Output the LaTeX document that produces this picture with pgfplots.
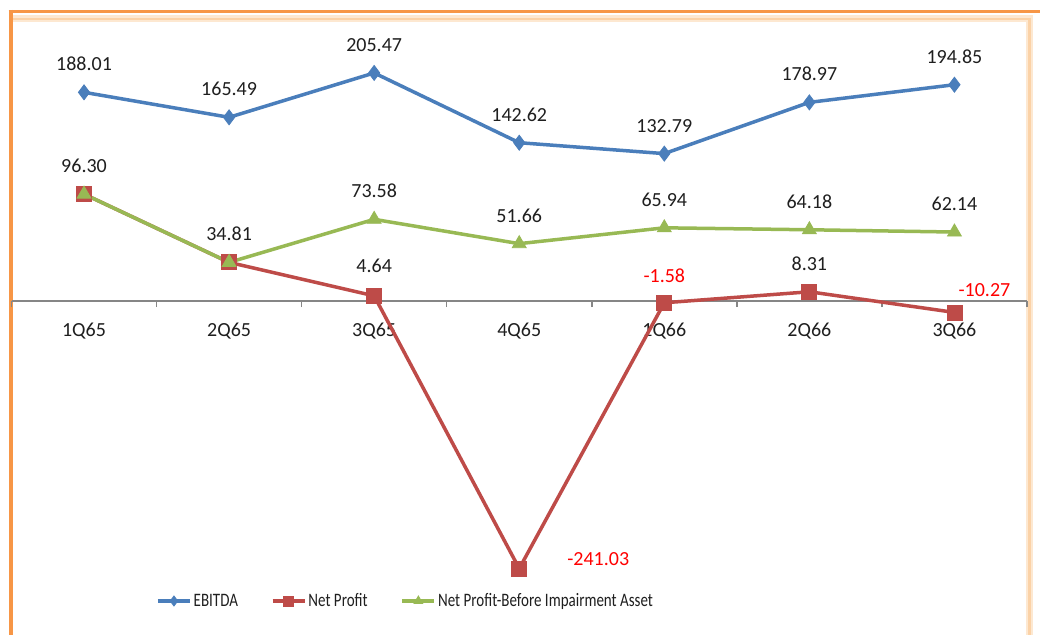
\documentclass[border=0pt]{standalone}
\usepackage{fontspec}
\setmainfont{Carlito}
\newfontfamily\legfont[FakeStretch=0.79]{Carlito}
\usepackage{pgfplots}
\pgfplotsset{compat=1.18}
\definecolor{ebit}{HTML}{4A7EBB}
\definecolor{np}{HTML}{BE4B48}
\definecolor{npb}{HTML}{98B954}
\definecolor{frameor}{HTML}{F79646}
\definecolor{glow}{HTML}{FCD3A4}
\definecolor{axgray}{HTML}{868686}
\definecolor{lbl}{HTML}{1F1F1F}
\newcommand{\lf}{\fontsize{20}{23}\selectfont}
\begin{document}
\begin{tikzpicture}[x=1pt,y=1pt]
\useasboundingbox (0,0) rectangle (1040,-634);
\fill[white] (0,0) rectangle (1040,-634);
\draw[glow, line width=7pt, opacity=0.5] (12,-19) -- (1029.5,-19) -- (1029.5,-640);
\draw[glow!85!frameor, line width=2.5pt, opacity=0.7] (12,-19) -- (1029.5,-19) -- (1029.5,-640);
\draw[frameor, line width=3pt] (8.5,-11.5) -- (1045,-11.5);
\draw[frameor, line width=4pt] (10.5,-10) -- (10.5,-640);
\begin{axis}[
  at={(11.5pt,-578.5pt)}, anchor=south west,
  scale only axis, width=1015.5pt, height=555pt,
  xmin=-0.5, xmax=6.5, ymin=-250, ymax=250,
  clip=false,
  axis x line*=middle, axis y line=none,
  axis line style={axgray, line width=1.5pt},
  xtick={0,...,6},
  xticklabels={1Q65,2Q65,3Q65,4Q65,1Q66,2Q66,3Q66},
  minor xtick={-0.5,0.5,1.5,2.5,3.5,4.5,5.5,6.5},
  major tick length=0pt, minor tick length=6pt,
  xtick align=outside,
  tick style={axgray, line width=1.5pt},
  ytick=\empty,
  xticklabel style={font=\lf, text=lbl, yshift=-18pt},
  legend columns=3,
  legend style={at={(0.1423,-0.0405)}, anchor=west, draw=none, fill=none,
    font=\legfont\fontsize{19}{22}\selectfont, text=lbl, inner sep=0pt,
    /tikz/every even column/.append style={column sep=31pt}},
  legend image code/.code={\draw[mark repeat=2,mark phase=2,#1,mark size=5pt] plot coordinates {(0pt,0pt) (16pt,0pt) (32pt,0pt)};},
  every node near coord/.append style={anchor=south, inner sep=0pt, yshift=21pt, text=lbl, font=\lf},
]
\addplot[ebit, line width=3.5pt, mark=diamond*, mark size=7.5pt, mark options={solid, line width=0.8pt},
  nodes near coords, point meta=explicit symbolic]
  coordinates {(0,188.01)[188.01] (1,165.49)[165.49] (2,205.47)[205.47] (3,142.62)[142.62] (4,132.79)[132.79] (5,178.97)[178.97] (6,194.85)[194.85]};
\addlegendentry{EBITDA}
\addplot[np, line width=3.5pt, mark=square*, mark size=7.5pt, mark options={solid, line width=0.8pt}]
  coordinates {(0,96.30) (1,34.81) (2,4.64) (3,-241.03) (4,-1.58) (5,8.31) (6,-10.27)};
\addlegendentry{Net Profit}
\addplot[npb, line width=3.5pt, mark=triangle*, mark size=8pt, mark options={solid, line width=0.8pt},
  nodes near coords, point meta=explicit symbolic]
  coordinates {(0,96.30)[96.30] (1,34.81)[34.81] (2,73.58)[73.58] (3,51.66)[51.66] (4,65.94)[65.94] (5,64.18)[64.18] (6,62.14)[62.14]};
\addlegendentry{Net Profit-Before Impairment Asset}
\node[font=\lf, text=lbl, anchor=south, inner sep=0pt, yshift=23pt] at (axis cs:2,4.64) {4.64};
\node[font=\lf, text=lbl, anchor=south, inner sep=0pt, yshift=21pt] at (axis cs:5,8.31) {8.31};
\node[font=\lf, text=red, anchor=south, inner sep=0pt, yshift=20pt] at (axis cs:4,-1.58) {-1.58};
\node[font=\lf, text=red, inner sep=0pt, xshift=30pt, yshift=22pt] at (axis cs:6,-10.27) {-10.27};
\node[font=\lf, text=red, inner sep=0pt, xshift=79pt, yshift=9pt] at (axis cs:3,-241.03) {-241.03};
\end{axis}
\end{tikzpicture}
\end{document}
